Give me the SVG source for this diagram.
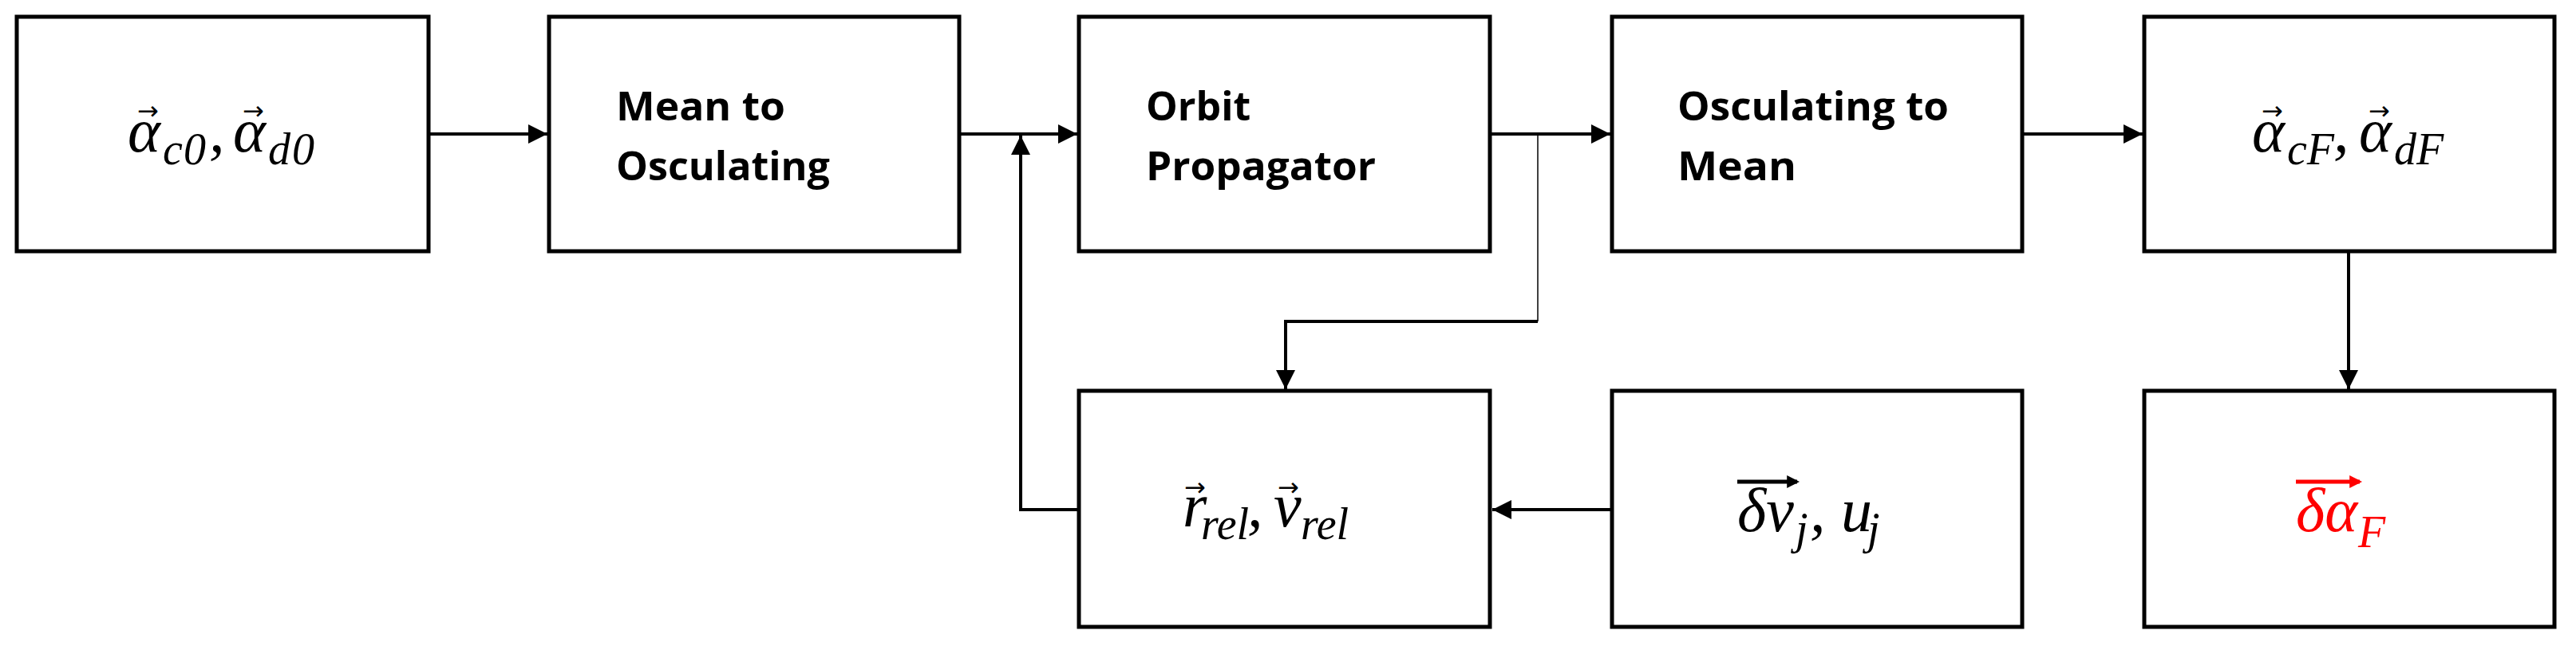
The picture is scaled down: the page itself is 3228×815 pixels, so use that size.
<svg xmlns="http://www.w3.org/2000/svg" width="3228" height="815" viewBox="0 0 3228 815">
<style>
.box{fill:#fff;stroke:#000;stroke-width:5}
.lbl{font-family:"Open Sans","Liberation Sans",sans-serif;font-weight:bold;font-size:50px}
.m{font-family:"Liberation Serif","DejaVu Serif",serif;font-style:italic;font-size:78px}
.s{font-family:"Liberation Serif","DejaVu Serif",serif;font-style:italic;font-size:56px}
.ar{font-family:"DejaVu Sans",sans-serif;font-size:32px}
.c{fill:none;stroke:#000;stroke-width:4}
</style>
<defs>
<marker id="ah" viewBox="0 0 10 10" refX="10" refY="5" markerWidth="6" markerHeight="6" markerUnits="strokeWidth" orient="auto"><path d="M0,0L10,5L0,10z" fill="#000"/></marker>
<marker id="oh" viewBox="0 0 10 10" refX="8" refY="5" markerWidth="16" markerHeight="16" markerUnits="userSpaceOnUse" orient="auto"><path d="M0,0L10,5L0,10z" fill="context-stroke"/></marker>
</defs>
<g id="connectors">
<path class="c" d="M537,168H686" marker-end="url(#ah)"/>
<path class="c" d="M1202,168H1350" marker-end="url(#ah)"/>
<path class="c" d="M1867,168H2018" marker-end="url(#ah)"/>
<path class="c" d="M2534,168H2685" marker-end="url(#ah)"/>
<path fill="none" stroke="#000" stroke-width="1.5" d="M1927,168V403"/>
<path class="c" d="M1927,403H1611V488" marker-end="url(#ah)"/>
<path class="c" d="M1352,639H1279V170" marker-end="url(#ah)"/>
<path class="c" d="M2020,639H1870" marker-end="url(#ah)"/>
<path class="c" d="M2943,315V488" marker-end="url(#ah)"/>
</g>
<g id="n1"><rect class="box" x="21" y="21" width="516" height="294"/>
<text class="m" x="160" y="190">α</text><text class="s" x="204" y="206">c</text><text class="s" x="230" y="206" font-style="normal">0</text>
<text class="m" x="262" y="190">,</text>
<text class="m" x="292" y="190">α</text><text class="s" x="336" y="206">d</text><text class="s" x="366" y="206" font-style="normal">0</text>
<text class="ar" x="172" y="150">→</text><text class="ar" x="304" y="150">→</text></g>
<g id="n2"><rect class="box" x="688" y="21" width="514" height="294"/>
<text class="lbl" x="772" y="151" textLength="212" lengthAdjust="spacingAndGlyphs">Mean to</text><text class="lbl" x="772" y="226" textLength="268" lengthAdjust="spacingAndGlyphs">Osculating</text></g>
<g id="n3"><rect class="box" x="1352" y="21" width="515" height="294"/>
<text class="lbl" x="1436" y="151">Orbit</text><text class="lbl" x="1436" y="226" textLength="288" lengthAdjust="spacingAndGlyphs">Propagator</text></g>
<g id="n4"><rect class="box" x="2020" y="21" width="514" height="294"/>
<text class="lbl" x="2102" y="151" textLength="340" lengthAdjust="spacingAndGlyphs">Osculating to</text><text class="lbl" x="2102" y="226" textLength="149" lengthAdjust="spacingAndGlyphs">Mean</text></g>
<g id="n5"><rect class="box" x="2687" y="21" width="514" height="294"/>
<text class="m" x="2822" y="190">α</text><text class="s" x="2866" y="206">cF</text>
<text class="m" x="2924" y="190">,</text>
<text class="m" x="2956" y="190">α</text><text class="s" x="3000" y="206">dF</text>
<text class="ar" x="2834" y="150">→</text><text class="ar" x="2968" y="150">→</text></g>
<g id="n6"><rect class="box" x="1352" y="490" width="515" height="296"/>
<text class="m" x="1482" y="660">r</text><text class="s" x="1505" y="676">rel</text>
<text class="m" x="1563" y="660">,</text>
<text class="m" x="1596" y="660">v</text><text class="s" x="1630" y="676">rel</text>
<text class="ar" x="1484" y="622">→</text><text class="ar" x="1601" y="622">→</text></g>
<g id="n7"><rect class="box" x="2020" y="490" width="514" height="296"/>
<text class="m" x="2177" y="666">δv</text><text class="s" x="2250" y="682">j</text>
<text class="m" x="2268" y="666">, u</text><text class="s" x="2340" y="682">j</text>
<path d="M2177,604H2252" stroke="#000" stroke-width="5" marker-end="url(#oh)"/></g>
<g id="n8"><rect class="box" x="2687" y="490" width="514" height="296"/>
<text class="m" x="2877" y="666" fill="#f00">δα</text><text class="s" x="2955" y="686" fill="#f00">F</text>
<path d="M2877,604H2957" stroke="#f00" stroke-width="5" marker-end="url(#oh)"/></g>
</svg>
